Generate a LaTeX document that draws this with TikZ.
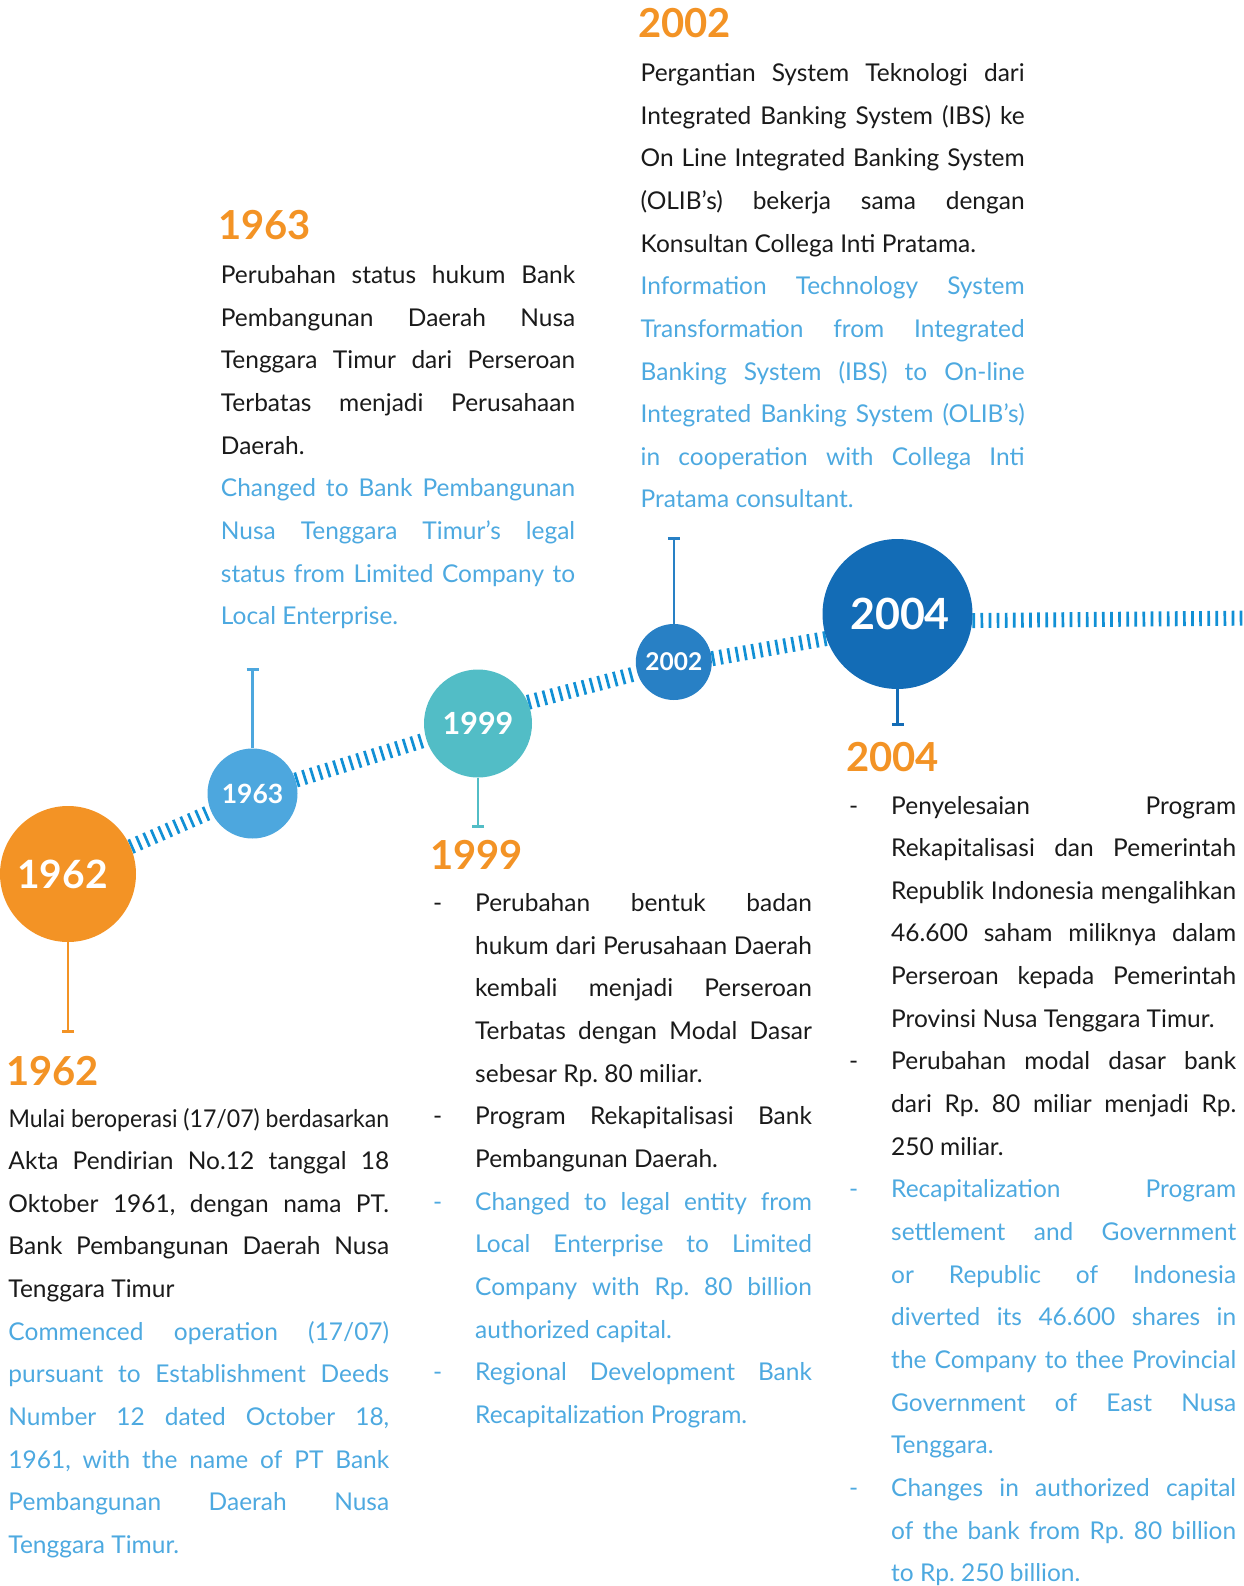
\documentclass[tikz,border=0pt]{standalone}
\usepackage{fontspec}
\usepackage{graphicx}
\setmainfont{Lato}
\usetikzlibrary{arrows.meta,backgrounds}
\definecolor{orng}{HTML}{F39325}
\definecolor{c62}{HTML}{F39325}
\definecolor{c63}{HTML}{4DA7DE}
\definecolor{c99}{HTML}{52BDC6}
\definecolor{c02}{HTML}{2880C5}
\definecolor{c04}{HTML}{136CB6}
\definecolor{hatchc}{HTML}{1190D5}
\definecolor{eng}{HTML}{4DA9E0}
\definecolor{ink}{HTML}{1A1A1A}
\frenchspacing
\newcommand\jst[1]{\hbox to\hsize{\spaceskip=\fontdimen2\font plus 1fil minus 0.5\fontdimen2\font\relax #1}}
\newcommand\lst[1]{\hbox to\hsize{#1\hfil}}
\newcommand\fitln[1]{\hbox to\hsize{\resizebox{\hsize}{\height}{#1}}}
\newcommand\bjst[1]{\jst{\color{eng}#1}}
\newcommand\blst[1]{\lst{\color{eng}#1}}
\newcommand\Dsh{\llap{\hbox to 42pt{-\hfil}}}
\tikzset{
  yr/.style={circle, inner sep=0pt, text=white},
  hatch/.style={draw=hatchc, line width=15pt, dash pattern=on 2.7pt off 5.4pt},
  stemline/.style={line width=2.6pt, -{Bar[width=12pt]}},
  head/.style={anchor=base west, inner sep=0pt, text=orng, font=\fontsize{40}{40}\selectfont\bfseries},
  body/.style={anchor=base west, inner sep=0pt, text=ink, font=\fontsize{24.5}{42.65}\selectfont},
}
\begin{document}
\begin{tikzpicture}[x=1pt,y=-1pt]
\useasboundingbox (0,0) rectangle (1243,1586);

% circles
\node[yr, fill=c62, minimum size=136pt, font=\fontsize{39}{39}\selectfont\bfseries] (c1962) at (68,874) {\kern-11pt1962};
\node[yr, fill=c63, minimum size=90pt, font=\fontsize{26.5}{26.5}\selectfont\bfseries] (c1963) at (252.5,793.5) {1963};
\node[yr, fill=c99, minimum size=108pt, font=\fontsize{30.5}{30.5}\selectfont\bfseries] (c1999) at (478,723.5) {1999};
\node[yr, fill=c02, minimum size=76pt, font=\fontsize{24.5}{24.5}\selectfont\bfseries] (c2002) at (673.8,662) {2002};
\node[yr, fill=c04, minimum size=150pt, font=\fontsize{43}{43}\selectfont\bfseries] (c2004) at (897.5,614) {\kern5pt2004};

\coordinate (tlend) at (1260,618);
\coordinate (e1962) at (68,1033);
\coordinate (e1963) at (252.5,668);
\coordinate (e1999) at (478,828);
\coordinate (e2002) at (673.8,537);
\coordinate (e2004) at (897.5,726);

\begin{pgfonlayer}{background}
\draw[hatch] (c1962) -- (c1963);
\draw[hatch] (c1963) -- (c1999);
\draw[hatch] (c1999.23) -- (c2002.197);
\draw[hatch] (c2002.5) -- (c2004.199);
\draw[hatch] (c2004.-5) -- (tlend);
\end{pgfonlayer}

% stems
\draw[stemline, draw=c62] (c1962.south) -- (e1962);
\draw[stemline, draw=c63] (c1963.north) -- (e1963);
\draw[stemline, draw=c99] (c1999.south) -- (e1999);
\draw[stemline, draw=c02] (c2002.north) -- (e2002);
\draw[stemline, draw=c04] (c2004.south) -- (e2004);

% headings
\node[head] (h2002) at (638,38) {2002};
\node[head] (h1963) at (218,240) {1963};
\node[head] (h1999) at (430,869) {1999};
\node[head] (h1962) at (6,1085) {1962};
\node[head] (h2004) at (846,771) {2004};

% 2002 text
\node[body] (t2002) at (640.5,81.5) {\vtop{\hsize=384pt
\jst{Pergantian System Teknologi dari}
\jst{Integrated Banking System (IBS) ke}
\jst{On Line Integrated Banking System}
\jst{(OLIB’s) bekerja sama dengan}
\lst{Konsultan Collega Inti Pratama.}
\bjst{Information Technology System}
\bjst{Transformation from Integrated}
\bjst{Banking System (IBS) to On-line}
\bjst{Integrated Banking System (OLIB’s)}
\bjst{in cooperation with Collega Inti}
\blst{Pratama consultant.}}};

% 1963 text
\node[body] (t1963) at (220.7,283.5) {\vtop{\hsize=354.3pt
\jst{Perubahan status hukum Bank}
\jst{Pembangunan Daerah Nusa}
\jst{Tenggara Timur dari Perseroan}
\jst{Terbatas menjadi Perusahaan}
\lst{Daerah.}
\bjst{Changed to Bank Pembangunan}
\bjst{Nusa Tenggara Timur’s legal}
\bjst{status from Limited Company to}
\blst{Local Enterprise.}}};

% 1962 text
\node[body] (t1962) at (8.3,1127) {\vtop{\hsize=380.7pt
\fitln{Mulai beroperasi (17/07) berdasarkan}
\jst{Akta Pendirian No.12 tanggal 18}
\jst{Oktober 1961, dengan nama PT.}
\jst{Bank Pembangunan Daerah Nusa}
\lst{Tenggara Timur}
\bjst{Commenced operation (17/07)}
\bjst{pursuant to Establishment Deeds}
\bjst{Number 12 dated October 18,}
\bjst{1961, with the name of PT Bank}
\bjst{Pembangunan Daerah Nusa}
\blst{Tenggara Timur.}}};

% 1999 text
\node[body] (t1999) at (475,911.5) {\vtop{\hsize=336.7pt
\jst{\Dsh Perubahan bentuk badan}
\jst{hukum dari Perusahaan Daerah}
\jst{kembali menjadi Perseroan}
\jst{Terbatas dengan Modal Dasar}
\lst{sebesar Rp. 80 miliar.}
\jst{\Dsh Program Rekapitalisasi Bank}
\lst{Pembangunan Daerah.}
\bjst{\Dsh Changed to legal entity from}
\bjst{Local Enterprise to Limited}
\bjst{Company with Rp. 80 billion}
\blst{authorized capital.}
\bjst{\Dsh Regional Development Bank}
\blst{Recapitalization Program.}}};

% 2004 text
\node[body] (t2004) at (891,814) {\vtop{\hsize=345pt
\jst{\Dsh Penyelesaian Program}
\jst{Rekapitalisasi dan Pemerintah}
\jst{Republik Indonesia mengalihkan}
\jst{46.600 saham miliknya dalam}
\jst{Perseroan kepada Pemerintah}
\lst{Provinsi Nusa Tenggara Timur.}
\jst{\Dsh Perubahan modal dasar bank}
\jst{dari Rp. 80 miliar menjadi Rp.}
\lst{250 miliar.}
\bjst{\Dsh Recapitalization Program}
\bjst{settlement and Government}
\bjst{or Republic of Indonesia}
\bjst{diverted its 46.600 shares in}
\bjst{the Company to thee Provincial}
\bjst{Government of East Nusa}
\blst{Tenggara.}
\bjst{\Dsh Changes in authorized capital}
\bjst{of the bank from Rp. 80 billion}
\blst{to Rp. 250 billion.}}};
\end{tikzpicture}
\end{document}
